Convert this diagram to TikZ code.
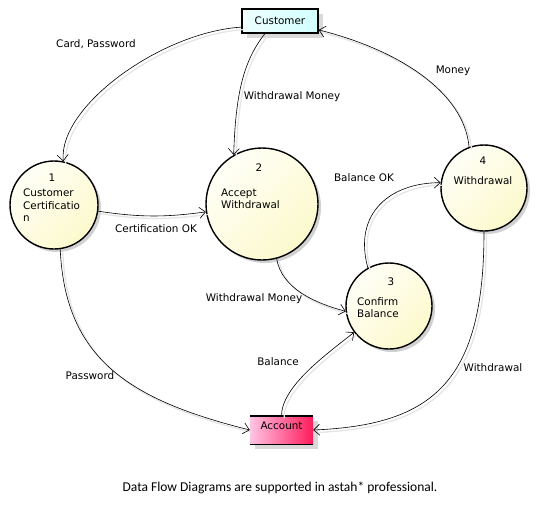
\documentclass[tikz,border=0pt]{standalone}
\usepackage{fontspec}
\setmainfont{DejaVu Sans}
\newfontfamily\notefont{Carlito}
\usetikzlibrary{arrows.meta,shadows}
\definecolor{bubbletop}{HTML}{FFFFF7}
\definecolor{bubblebottom}{HTML}{FCF9CC}
\definecolor{custleft}{HTML}{EEFFFF}
\definecolor{custright}{HTML}{D2FFFF}
\definecolor{accleft}{HTML}{FFC4E4}
\definecolor{accright}{HTML}{FF1C5C}
\begin{document}
\begin{tikzpicture}[x=1pt,y=-1pt,font=\fontsize{10.4}{12.5}\selectfont,
  process/.style={circle, draw, line width=1.4pt, inner sep=0pt, minimum size=#1,
    top color=bubbletop, bottom color=bubblebottom, shading angle=45,
    drop shadow={shadow xshift=3pt, shadow yshift=-3pt, fill=black, opacity=.18}},
  entity/.style={draw, line width=1.4pt, minimum width=76pt, minimum height=24pt, inner sep=0pt,
    left color=custleft, right color=custright,
    drop shadow={shadow xshift=5pt, shadow yshift=-5pt, fill=black, opacity=.15}},
  store/.style={minimum width=63pt, minimum height=28pt, inner sep=0pt,
    left color=accleft, right color=accright,
    drop shadow={shadow xshift=5pt, shadow yshift=-5pt, fill=black, opacity=.15}},
  flow/.style={line width=.6pt, -{Straight Barb[length=6pt,width=11pt]},
    preaction={draw=black!10, line width=1.3pt, arrows=-, transform canvas={shift={(2.5pt,-2.5pt)}}}},
  lbl/.style={inner sep=0pt},
  body/.style={inner sep=0pt, align=left, anchor=west}]
\useasboundingbox (0,0) rectangle (537,509);
% Processes
\node[process=88pt] (c1) at (54,205) {};
\node[process=112pt] (c2) at (262,204) {};
\node[process=86pt] (c3) at (389,306) {};
\node[process=86pt] (c4) at (484,188) {};
% Process numbers and names
\node[lbl] (c1num) at (52,178) {1};
\node[body] (c1txt) at (23,205.5) {Customer\\Certificatio\\n};
\node[lbl] (c2num) at (259,168) {2};
\node[body] (c2txt) at (221,199) {Accept\\Withdrawal};
\node[lbl] (c3num) at (391,282) {3};
\node[body] (c3txt) at (357,307.5) {Confirm\\Balance};
\node[lbl] (c4num) at (483,161) {4};
\node[lbl] (c4txt) at (483,181) {Withdrawal};
% External entity and data store
\node[entity] (cust) at (280,21) {Customer};
\node[store, text depth=8pt] (acc) at (281.5,430) {Account};
\draw[line width=1.4pt] (acc.north west) -- (acc.north east);
\draw[line width=1.4pt] (acc.south west) -- (acc.south east);
% Data flows
\draw[flow] (cust.189) .. controls +(-80,5) and +(-5,-55) .. (c1.78);
\draw[flow] (cust.220) .. controls +(-22,28) and +(2,-60) .. (c2.120);
\draw[flow] (c4.110) .. controls +(-5,-55) and +(80,20) .. (cust.-13);
\draw[flow] (c1.-8) to[bend right=8] (c2.188);
\draw[flow] (c2.-75) .. controls +(5,30) and +(-30,-8) .. (c3.187);
\draw[flow] (c3.119) .. controls +(-15,-55) and +(-50,0) .. (c4.173);
\draw[flow] (acc.north) .. controls +(0,-30) and +(-25,20) .. (c3.217);
\draw[flow] (c1.-82) .. controls +(5,110) and +(-120,-30) .. (acc.west);
\draw[flow] (c4.south) .. controls +(0,150) and +(120,-5) .. (acc.east);
% Flow labels
\node[lbl] (lcard) at (96,44) {Card, Password};
\node[lbl] (lwm1) at (292,97) {Withdrawal Money};
\node[lbl] (lmoney) at (453,71) {Money};
\node[lbl] (lcert) at (156,229) {Certification OK};
\node[lbl] (lbok) at (364,178) {Balance OK};
\node[lbl] (lwm2) at (254,299) {Withdrawal Money};
\node[lbl] (lbal) at (278,362) {Balance};
\node[lbl] (lpass) at (90,376) {Password};
\node[lbl] (lwd) at (493,368) {Withdrawal};
% Footer
\node[lbl, font=\notefont\fontsize{13.5}{15}\selectfont] (note) at (280,488)
  {Data Flow Diagrams are supported in astah* professional.};
\end{tikzpicture}
\end{document}
